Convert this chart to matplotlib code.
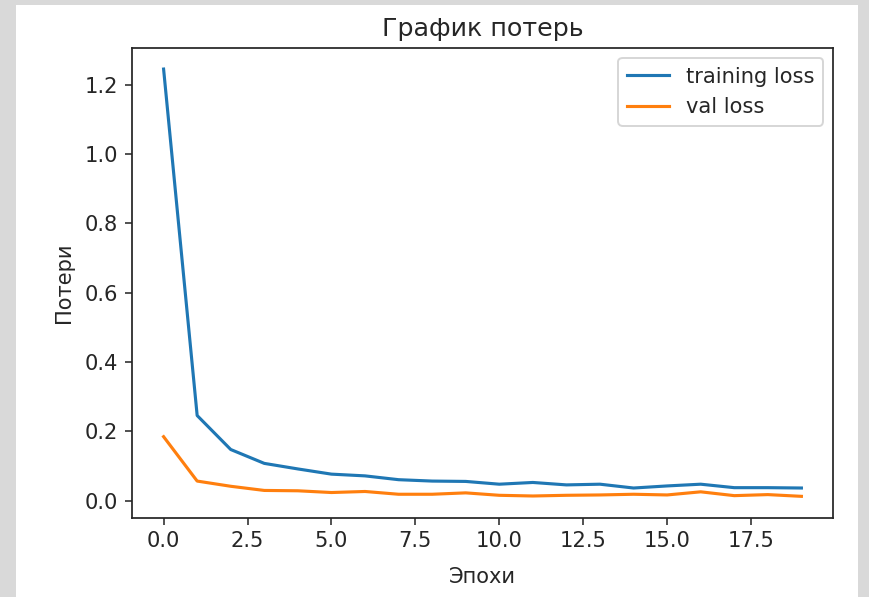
import matplotlib
matplotlib.use("Agg")
import matplotlib.pyplot as plt
from matplotlib.patches import Rectangle

# Loss per epoch
epochs = list(range(20))
training_loss = [1.245, 0.246, 0.148, 0.108, 0.092, 0.077, 0.072, 0.061, 0.057, 0.056,
                 0.048, 0.053, 0.046, 0.048, 0.037, 0.043, 0.048, 0.038, 0.038, 0.037]
val_loss = [0.185, 0.057, 0.042, 0.030, 0.029, 0.024, 0.027, 0.019, 0.019, 0.023,
            0.016, 0.014, 0.016, 0.017, 0.019, 0.017, 0.026, 0.015, 0.018, 0.013]

plt.rcParams["font.size"] = 10.8
plt.rcParams["text.color"] = "#262626"
plt.rcParams["axes.labelcolor"] = "#262626"
plt.rcParams["xtick.color"] = "#262626"
plt.rcParams["ytick.color"] = "#262626"
plt.rcParams["axes.edgecolor"] = "#262626"
plt.rcParams["axes.linewidth"] = 0.9

W, H = 869, 597
DPI = 140.4
fig = plt.figure(figsize=(W / DPI, H / DPI), dpi=DPI)
fig.patch.set_facecolor("#d9d9d9")
fig.add_artist(Rectangle((16 / W, 0), (858 - 16) / W, (H - 5) / H,
                         transform=fig.transFigure, facecolor="white",
                         edgecolor="none", zorder=-10))

left, right, top, bottom = 131.7, 833.3, 47.7, 517.7
ax = fig.add_axes([left / W, (H - bottom) / H, (right - left) / W, (bottom - top) / H])

ax.plot(epochs, training_loss, label="training loss", lw=1.6)
ax.plot(epochs, val_loss, label="val loss", lw=1.6)
ax.set_title("График потерь", fontsize=13)
ax.set_xlabel("Эпохи", labelpad=8)
ax.set_ylabel("Потери", labelpad=5.5)
ax.legend()

fig.savefig("out.png", dpi=DPI, facecolor=fig.get_facecolor())
